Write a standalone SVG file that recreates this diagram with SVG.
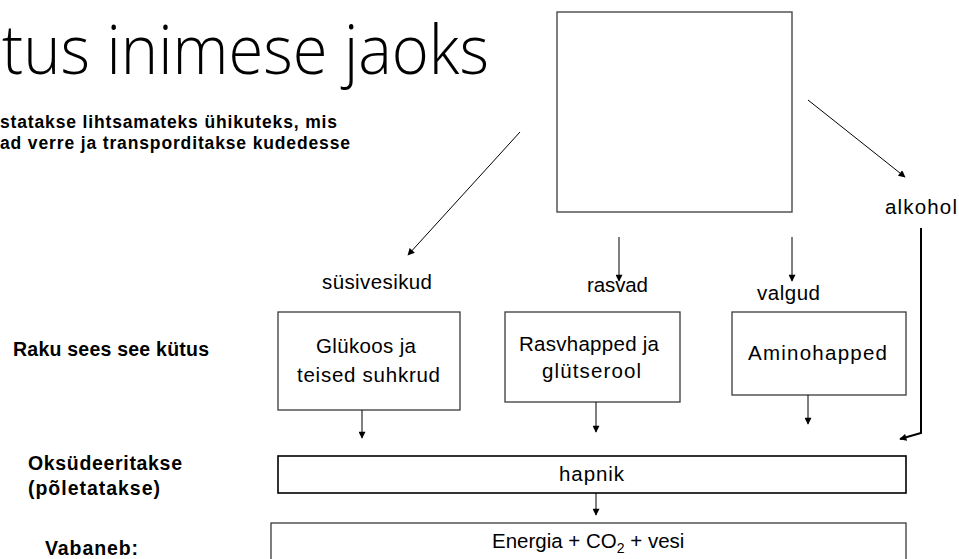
<svg xmlns="http://www.w3.org/2000/svg" width="959" height="559" viewBox="0 0 959 559">
<style>
.t{font-family:"Liberation Sans",Arial,sans-serif;font-size:20.5px;fill:#000}
.b{font-family:"Liberation Sans",Arial,sans-serif;font-size:19.5px;font-weight:bold;fill:#000}
.s{font-family:"Liberation Sans",Arial,sans-serif;font-size:17.5px;font-weight:bold;fill:#000}
.title{font-family:"Open Sans","Liberation Sans",sans-serif;font-weight:300;font-size:68px;fill:#000}
.box{fill:#fff;stroke:#3a3a3a;stroke-width:1.3}
.boxk{fill:#fff;stroke:#000;stroke-width:1.6}
.c{fill:none;stroke:#000;stroke-width:1;marker-end:url(#ah)}
.ck{fill:none;stroke:#000;stroke-width:2;marker-end:url(#ah)}
</style>
<defs>
<marker id="ah" viewBox="0 0 10 10" refX="9" refY="5" markerWidth="8" markerHeight="7" markerUnits="userSpaceOnUse" orient="auto">
<path d="M0,0 L10,5 L0,10 z" fill="#000"/>
</marker>
</defs>
<rect width="959" height="559" fill="#fff"/>
<text class="title" x="2" y="74" textLength="487" lengthAdjust="spacingAndGlyphs">tus inimese jaoks</text>
<text class="s" x="0" y="128" textLength="337">statakse lihtsamateks ühikuteks, mis</text>
<text class="s" x="0" y="149" textLength="350">ad verre ja transporditakse kudedesse</text>
<text class="b" x="13" y="356" textLength="196">Raku sees see kütus</text>
<text class="b" x="28" y="470" textLength="154">Oksüdeeritakse</text>
<text class="b" x="28" y="495" textLength="132">(põletatakse)</text>
<text class="b" x="45" y="555" textLength="93">Vabaneb:</text>
<g id="source"><rect class="box" x="557" y="12" width="235" height="200"/></g>
<g id="susivesikud"><text class="t" x="322" y="289" textLength="110">süsivesikud</text></g>
<g id="rasvad"><text class="t" x="587" y="292" textLength="61">rasvad</text></g>
<g id="valgud"><text class="t" x="757" y="300" textLength="63">valgud</text></g>
<g id="alkohol"><text class="t" x="885" y="214" textLength="72">alkohol</text></g>
<g id="glukoos"><rect class="box" x="278" y="312" width="182" height="98"/>
<text class="t" x="316" y="353" textLength="100">Glükoos ja</text>
<text class="t" x="297" y="382" textLength="143">teised suhkrud</text></g>
<g id="rasvhapped"><rect class="box" x="505" y="312" width="175" height="90"/>
<text class="t" x="519" y="351" textLength="140">Rasvhapped ja</text>
<text class="t" x="542" y="378" textLength="99">glütserool</text></g>
<g id="aminohapped"><rect class="box" x="732" y="312" width="174" height="83"/>
<text class="t" x="748" y="360" textLength="139">Aminohapped</text></g>
<g id="hapnik"><rect class="boxk" x="278" y="456" width="628" height="37"/>
<text class="t" x="559" y="481" textLength="65">hapnik</text></g>
<g id="energia"><rect class="box" x="271" y="523" width="635" height="50"/>
<text class="t" x="492" y="548">Energia + CO<tspan font-size="14" dy="5">2</tspan><tspan dy="-5"> + vesi</tspan></text></g>
<g id="connectors">
<line class="c" x1="520" y1="132" x2="408" y2="255"/>
<line class="c" x1="808" y1="100" x2="905" y2="177"/>
<line class="c" x1="619" y1="237" x2="619" y2="281"/>
<line class="c" x1="792" y1="237" x2="792" y2="281"/>
<polyline class="ck" points="921,228 921,433 900,439"/>
<line class="c" x1="362" y1="410" x2="362" y2="438"/>
<line class="c" x1="596" y1="402" x2="596" y2="432"/>
<line class="c" x1="808" y1="395" x2="808" y2="424"/>
<line class="c" x1="596" y1="493" x2="596" y2="515"/>
</g>
</svg>
